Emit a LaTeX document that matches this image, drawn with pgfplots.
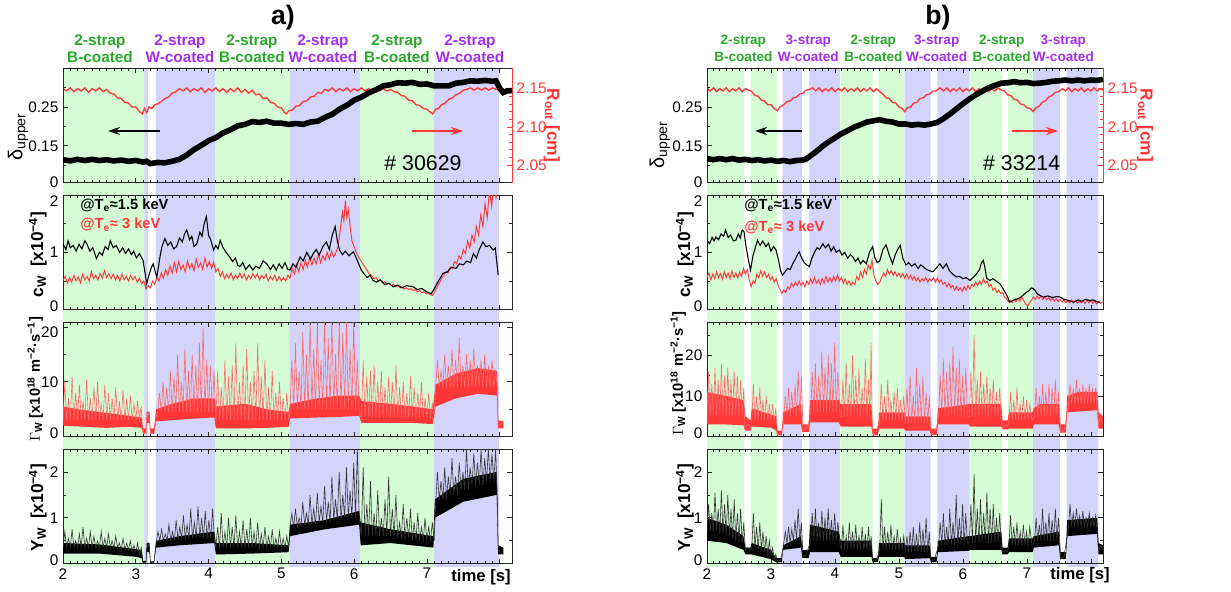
\documentclass[border=0pt]{standalone}
\usepackage{pgfplots}
\pgfplotsset{compat=1.18}
\usepackage{fontspec}
\setmainfont{Liberation Sans}
\usetikzlibrary{arrows.meta}
\definecolor{bgG}{RGB}{214,252,214}
\definecolor{bgP}{RGB}{212,212,250}
\definecolor{myred}{RGB}{255,55,55}
\definecolor{sgreen}{RGB}{40,170,40}
\definecolor{spurple}{RGB}{165,45,240}
\newcommand{\up}[1]{\raisebox{-0.1em}[0pt][0pt]{#1}}
\newcommand{\dn}[1]{\raisebox{-0.72em}[0pt][0pt]{#1}}
\pgfplotsset{
 base/.style={scale only axis, anchor=north west, height=86pt, ymin=0, clip=true,
   axis line style={line width=0.6pt, black!85}, tick style={black!85, line width=0.5pt},
   major tick length=3.5pt, minor tick length=2pt, tick align=inside,
   xtick={2,3,4,5,6,7,8}, minor x tick num=9, xticklabels={},
   /pgf/number format/assume math mode=true,
   tick label style={font=\fontsize{11.5}{13}\selectfont},
   ylabel style={font=\bfseries\fontsize{13}{15}\selectfont, anchor=center}},
 colA/.style={base, width=336.75pt, xmin=2, xmax=8.17},
 colB/.style={base, width=297pt, xmin=2, xmax=8.19},
 deltaax/.style={ymin=0.055, ymax=0.35, ytick={0.055,0.15,0.25}, yticklabels={0,0.15,0.25}, minor ytick={0.1,0.2,0.3}, axis y line*=left},
 rax/.style={ymin=2.027, ymax=2.177, axis y line*=right, axis x line=none, ytick={2.05,2.10,2.15}, yticklabels={2.05,2.10,2.15}, minor y tick num=4,
   y axis line style={myred}, tick style={myred}, yticklabel style={text=myred}, ylabel style={text=myred, rotate=180}},
 cwax/.style={ymax=2, ytick={0,1,2}, yticklabels={\up{0},1,\dn{2}}, minor y tick num=1},
 gax/.style={ytick={0,10,20}, minor y tick num=1},
 yax/.style={ymax=2.5, ytick={0,1,2}, yticklabels={\up{0},1,2}, minor y tick num=1},
}
\begin{document}
\begin{tikzpicture}
\useasboundingbox (0,0) rectangle (923.25pt,-444pt);
% ---------- backgrounds
\begin{axis}[colA, at={(47.25pt,-51pt)}, height=374.25pt, ymin=0, ymax=1, hide axis]
\addplot[const plot, fill=bgG, draw=none] coordinates {(2,1)(3.117,0)(4.088,1)(5.109,0)(6.08,1)(7.101,0)(8.17,0)} \closedcycle;
\addplot[const plot, fill=bgP, draw=none] coordinates {(2,0)(3.117,1)(3.17,0)(3.277,1)(4.088,0)(5.109,1)(6.08,0)(7.101,1)(7.989,0)(8.17,0)} \closedcycle;
\end{axis}
\begin{axis}[colB, at={(530.25pt,-51pt)}, height=374.25pt, ymin=0, ymax=1, hide axis]
\addplot[const plot, fill=bgG, draw=none] coordinates {(2,1)(2.585,0)(2.684,1)(3.092,0)(4.085,1)(4.591,0)(4.68,1)(5.088,0)(6.1,1)(6.613,0)(6.707,1)(7.099,0)(8.19,0)} \closedcycle;
\addplot[const plot, fill=bgP, draw=none] coordinates {(2,0)(3.181,1)(3.484,0)(3.6,1)(4.075,0)(5.088,1)(5.495,0)(5.6,1)(6.1,0)(7.099,1)(7.517,0)(7.622,1)(8.118,0)(8.19,0)} \closedcycle;
\end{axis}
% ---------- a) top
\begin{axis}[colA, rax, at={(47.25pt,-51pt)}, ylabel={R\textsubscript{out} [cm]}, ylabel style={at={(axis description cs:1.089,0.5)}}]
\addplot[myred, line width=1pt] coordinates {(2.0,2.150)(2.05,2.147)(2.1,2.151)(2.15,2.146)(2.2,2.150)(2.25,2.147)(2.3,2.151)(2.35,2.145)(2.4,2.150)(2.45,2.147)(2.5,2.151)(2.55,2.146)(2.6,2.149)(2.65,2.144)(2.7,2.143)(2.75,2.138)(2.8,2.137)(2.85,2.132)(2.9,2.131)(2.95,2.126)(3.0,2.126)(3.05,2.120)(3.09,2.117)(3.12,2.124)(3.15,2.119)(3.18,2.126)(3.22,2.124)(3.26,2.129)(3.3,2.130)(3.35,2.133)(3.4,2.137)(3.45,2.139)(3.5,2.144)(3.55,2.146)(3.6,2.150)(3.65,2.147)(3.7,2.151)(3.75,2.146)(3.8,2.150)(3.85,2.147)(3.9,2.151)(3.95,2.145)(4.0,2.150)(4.05,2.147)(4.1,2.151)(4.15,2.146)(4.2,2.150)(4.25,2.145)(4.3,2.150)(4.35,2.146)(4.4,2.151)(4.45,2.145)(4.5,2.149)(4.55,2.144)(4.6,2.148)(4.65,2.142)(4.7,2.143)(4.75,2.137)(4.8,2.138)(4.85,2.132)(4.9,2.131)(4.95,2.126)(5.0,2.125)(5.04,2.119)(5.07,2.117)(5.1,2.121)(5.15,2.122)(5.2,2.127)(5.25,2.128)(5.3,2.133)(5.35,2.134)(5.4,2.139)(5.45,2.140)(5.5,2.145)(5.55,2.144)(5.6,2.149)(5.65,2.147)(5.7,2.151)(5.75,2.146)(5.8,2.150)(5.85,2.147)(5.9,2.151)(5.95,2.146)(6.0,2.150)(6.05,2.147)(6.1,2.151)(6.15,2.147)(6.2,2.150)(6.25,2.147)(6.3,2.151)(6.35,2.147)(6.4,2.150)(6.45,2.147)(6.5,2.149)(6.55,2.146)(6.6,2.145)(6.65,2.141)(6.7,2.140)(6.75,2.135)(6.8,2.134)(6.85,2.129)(6.9,2.128)(6.95,2.124)(7.0,2.123)(7.05,2.119)(7.08,2.117)(7.12,2.123)(7.16,2.124)(7.2,2.129)(7.25,2.131)(7.3,2.136)(7.35,2.138)(7.4,2.142)(7.45,2.144)(7.5,2.148)(7.55,2.149)(7.6,2.151)(7.65,2.148)(7.7,2.151)(7.75,2.148)(7.8,2.151)(7.85,2.148)(7.9,2.151)(7.95,2.149)(7.98,2.150)};
\end{axis}
\begin{axis}[colA, deltaax, at={(47.25pt,-51pt)}, ylabel={δ\textsubscript{upper}}, ylabel style={at={(axis description cs:-0.1,0.4)}, font=\fontsize{15}{17}\selectfont}]
\addplot[black, line width=4.2pt] coordinates {(2.0,0.114)(2.1,0.111)(2.2,0.115)(2.3,0.112)(2.4,0.115)(2.5,0.112)(2.6,0.114)(2.7,0.111)(2.8,0.113)(2.9,0.110)(3.0,0.112)(3.1,0.108)(3.15,0.110)(3.2,0.104)(3.3,0.107)(3.4,0.106)(3.5,0.110)(3.6,0.115)(3.7,0.126)(3.8,0.140)(3.9,0.151)(4.0,0.163)(4.1,0.171)(4.2,0.183)(4.3,0.191)(4.4,0.201)(4.5,0.205)(4.6,0.212)(4.7,0.210)(4.8,0.213)(4.9,0.208)(5.0,0.208)(5.1,0.205)(5.2,0.207)(5.3,0.205)(5.4,0.211)(5.5,0.213)(5.6,0.223)(5.7,0.231)(5.8,0.244)(5.9,0.254)(6.0,0.267)(6.1,0.275)(6.2,0.286)(6.3,0.294)(6.4,0.304)(6.5,0.307)(6.6,0.312)(6.7,0.311)(6.8,0.313)(6.9,0.308)(7.0,0.309)(7.1,0.304)(7.2,0.304)(7.3,0.304)(7.4,0.311)(7.5,0.313)(7.6,0.317)(7.7,0.316)(7.8,0.318)(7.9,0.316)(7.95,0.317)(8.0,0.298)(8.05,0.287)(8.1,0.291)(8.17,0.292)};
\end{axis}
% ---------- a) cW
\begin{axis}[colA, cwax, at={(47.25pt,-146.25pt)}, ylabel={c\textsubscript{W}\enspace[x10\textsuperscript{−4}]}, ylabel style={at={(axis description cs:-0.056,0.48)}}]
\addplot[myred, line width=0.7pt] coordinates {(2.00,0.51)(2.03,0.58)(2.06,0.46)(2.09,0.56)(2.12,0.48)(2.15,0.60)(2.18,0.50)(2.21,0.57)(2.24,0.47)(2.27,0.62)(2.30,0.52)(2.33,0.58)(2.36,0.50)(2.39,0.66)(2.42,0.54)(2.45,0.60)(2.48,0.52)(2.51,0.63)(2.54,0.55)(2.57,0.68)(2.60,0.56)(2.63,0.63)(2.66,0.54)(2.69,0.62)(2.72,0.52)(2.75,0.60)(2.78,0.50)(2.81,0.62)(2.84,0.52)(2.87,0.58)(2.90,0.50)(2.93,0.60)(2.96,0.52)(2.99,0.58)(3.02,0.48)(3.05,0.55)(3.08,0.45)(3.11,0.50)(3.14,0.36)(3.17,0.42)(3.20,0.38)(3.23,0.50)(3.26,0.44)(3.29,0.56)(3.32,0.50)(3.35,0.64)(3.38,0.55)(3.41,0.70)(3.44,0.60)(3.47,0.76)(3.50,0.64)(3.53,0.82)(3.56,0.66)(3.59,0.84)(3.62,0.70)(3.65,0.78)(3.68,0.66)(3.71,0.85)(3.74,0.72)(3.77,0.80)(3.80,0.68)(3.83,0.88)(3.86,0.74)(3.89,0.82)(3.92,0.70)(3.95,0.90)(3.98,0.74)(4.01,0.84)(4.04,0.72)(4.07,0.83)(4.10,0.66)(4.13,0.72)(4.16,0.58)(4.19,0.66)(4.22,0.54)(4.25,0.62)(4.28,0.55)(4.31,0.64)(4.34,0.52)(4.37,0.60)(4.40,0.54)(4.43,0.64)(4.46,0.55)(4.49,0.62)(4.52,0.52)(4.55,0.60)(4.58,0.54)(4.61,0.63)(4.64,0.55)(4.67,0.62)(4.70,0.52)(4.73,0.60)(4.76,0.54)(4.79,0.62)(4.82,0.50)(4.85,0.58)(4.88,0.52)(4.91,0.60)(4.94,0.50)(4.97,0.58)(5.00,0.50)(5.03,0.56)(5.06,0.50)(5.09,0.60)(5.12,0.55)(5.15,0.72)(5.18,0.62)(5.21,0.78)(5.24,0.66)(5.27,0.82)(5.30,0.70)(5.33,0.86)(5.36,0.74)(5.39,0.92)(5.42,0.78)(5.45,0.90)(5.48,0.80)(5.51,0.96)(5.54,0.82)(5.57,0.94)(5.60,0.86)(5.63,1.00)(5.66,0.88)(5.69,1.02)(5.72,0.92)(5.75,1.00)(5.78,1.10)(5.81,1.40)(5.84,1.70)(5.86,1.55)(5.88,1.90)(5.90,1.60)(5.92,1.75)(5.95,1.40)(5.97,1.20)(6.00,1.10)(6.03,1.00)(6.06,0.92)(6.09,0.86)(6.12,0.80)(6.15,0.74)(6.18,0.68)(6.21,0.62)(6.24,0.60)(6.27,0.54)(6.30,0.56)(6.33,0.50)(6.36,0.52)(6.39,0.47)(6.42,0.49)(6.45,0.44)(6.48,0.46)(6.51,0.42)(6.54,0.44)(6.57,0.40)(6.60,0.42)(6.63,0.38)(6.66,0.40)(6.69,0.36)(6.72,0.38)(6.75,0.35)(6.78,0.37)(6.81,0.33)(6.84,0.35)(6.87,0.31)(6.90,0.33)(6.93,0.30)(6.96,0.31)(6.99,0.28)(7.02,0.29)(7.05,0.26)(7.08,0.25)(7.11,0.32)(7.14,0.40)(7.17,0.46)(7.20,0.54)(7.23,0.60)(7.26,0.66)(7.29,0.64)(7.32,0.74)(7.35,0.72)(7.38,0.84)(7.41,0.80)(7.44,0.94)(7.47,0.88)(7.50,1.05)(7.53,0.98)(7.56,1.20)(7.59,1.08)(7.62,1.30)(7.65,1.18)(7.68,1.45)(7.71,1.30)(7.74,1.65)(7.77,1.45)(7.80,1.85)(7.83,1.60)(7.86,2.10)(7.89,1.80)(7.92,2.20)(7.95,1.95)(7.98,2.10)};
\addplot[black, line width=0.8pt] coordinates {(2.00,1.15)(2.04,1.05)(2.07,1.20)(2.10,1.08)(2.14,1.12)(2.18,1.02)(2.22,1.14)(2.26,1.06)(2.30,1.20)(2.33,1.14)(2.37,1.02)(2.41,1.08)(2.46,0.89)(2.50,1.00)(2.54,0.95)(2.58,1.10)(2.62,1.05)(2.65,1.20)(2.69,1.08)(2.73,1.12)(2.78,1.00)(2.82,1.08)(2.86,0.98)(2.90,1.06)(2.94,0.96)(2.97,1.02)(3.01,0.90)(3.05,0.98)(3.10,0.86)(3.13,0.62)(3.15,0.45)(3.18,0.60)(3.21,0.72)(3.24,0.80)(3.27,0.65)(3.29,0.57)(3.33,0.90)(3.36,1.10)(3.40,1.24)(3.44,1.12)(3.48,1.18)(3.52,1.06)(3.56,1.10)(3.60,1.25)(3.64,1.18)(3.67,1.32)(3.70,1.39)(3.74,1.22)(3.77,1.28)(3.80,1.10)(3.84,1.15)(3.88,1.35)(3.91,1.28)(3.94,1.50)(3.97,1.62)(4.00,1.30)(4.03,1.22)(4.07,1.04)(4.10,1.12)(4.13,1.06)(4.16,1.21)(4.20,1.08)(4.24,1.00)(4.29,0.92)(4.33,0.84)(4.37,0.90)(4.40,0.78)(4.43,0.75)(4.47,0.82)(4.51,0.70)(4.56,0.78)(4.61,0.69)(4.65,0.76)(4.70,0.72)(4.75,0.85)(4.80,0.80)(4.85,0.70)(4.89,0.78)(4.93,0.69)(4.97,0.80)(5.01,0.72)(5.05,0.82)(5.09,0.70)(5.12,0.69)(5.16,0.80)(5.20,0.74)(5.26,0.92)(5.30,0.85)(5.35,1.00)(5.40,0.88)(5.44,0.98)(5.48,1.05)(5.52,0.95)(5.57,1.10)(5.62,1.18)(5.66,1.05)(5.70,1.30)(5.74,1.45)(5.77,1.20)(5.80,1.04)(5.84,0.96)(5.88,1.02)(5.93,0.94)(5.99,1.01)(6.03,0.90)(6.07,0.78)(6.10,0.69)(6.14,0.62)(6.18,0.56)(6.22,0.60)(6.26,0.51)(6.31,0.48)(6.36,0.52)(6.42,0.44)(6.48,0.46)(6.54,0.40)(6.60,0.43)(6.66,0.38)(6.72,0.42)(6.81,0.40)(6.87,0.35)(6.93,0.37)(7.00,0.31)(7.06,0.28)(7.10,0.36)(7.15,0.48)(7.22,0.63)(7.28,0.66)(7.34,0.74)(7.40,0.72)(7.45,0.80)(7.50,0.78)(7.55,0.85)(7.60,0.82)(7.64,0.98)(7.68,0.90)(7.72,1.05)(7.77,1.18)(7.81,1.10)(7.86,1.12)(7.91,1.04)(7.94,1.08)(7.98,0.60)};
\end{axis}
% ---------- a) Gamma
\begin{axis}[colA, gax, yticklabels={\up{0},10,\dn{20}}, ymax=20.9, at={(47.25pt,-241.5pt)}, ylabel={$\Gamma$\textsubscript{W} [x10\textsuperscript{18} m\textsuperscript{−2}·s\textsuperscript{−1}]}, ylabel style={at={(axis description cs:-0.062,0.5)}, font=\bfseries\fontsize{11}{13}\selectfont}]
\addplot[fill=myred, draw=none] coordinates {(2.0,2.0)(2.3,1.8)(2.6,1.6)(2.9,1.8)(3.08,1.6)(3.1,0.6)(3.14,0.5)(3.15,2.5)(3.19,2.5)(3.2,0.5)(3.25,0.5)(3.28,2.8)(3.5,3.0)(3.8,3.3)(4.08,3.5)(4.1,1.5)(4.5,1.5)(4.8,1.6)(5.1,1.8)(5.12,3.3)(5.5,3.5)(5.8,3.6)(6.07,3.8)(6.1,2.5)(6.5,2.5)(6.8,2.5)(7.08,2.3)(7.12,5.5)(7.4,7.0)(7.7,7.8)(7.96,7.5)(7.98,1.5)(8.05,1.5)(8.05,2.8)(7.98,3)(7.96,12)(7.7,12.5)(7.4,11.5)(7.12,9.5)(7.08,5)(6.8,5.5)(6.5,6)(6.1,6.5)(6.07,7.5)(5.8,7.5)(5.5,7)(5.12,6)(5.1,4.5)(4.8,5)(4.5,6)(4.1,5.5)(4.08,7)(3.8,7)(3.5,6)(3.28,5)(3.25,1.5)(3.2,1.5)(3.19,4.5)(3.15,4.5)(3.14,1.5)(3.1,1.5)(3.08,3.5)(2.8,4)(2.5,4.5)(2.2,5)(2.0,5.5)} -- cycle;
\addplot[myred!75, line width=0.45pt] coordinates {(2.00,3)(2.025,10)(2.05,3)(2.075,7)(2.10,3)(2.125,11)(2.15,3)(2.175,8)(2.20,3)(2.225,9.5)(2.25,3)(2.275,6.5)(2.30,3)(2.325,10.5)(2.35,3)(2.375,7)(2.40,3)(2.425,9)(2.45,3)(2.475,10)(2.50,3)(2.525,6)(2.55,3)(2.575,9.5)(2.60,3)(2.625,8)(2.65,3)(2.675,7)(2.70,3)(2.725,9)(2.75,3)(2.775,6.5)(2.80,3)(2.825,8.5)(2.85,3)(2.875,7)(2.90,3)(2.925,7.5)(2.95,3)(2.975,6)(3.00,3)(3.025,6.5)(3.05,3)(3.075,5.5)(3.09,2)(3.11,0.6)(3.14,0.5)(3.15,3)(3.17,4.5)(3.19,3)(3.20,0.6)(3.25,0.5)(3.28,3.5)(3.30,4.5)(3.325,8)(3.35,4.5)(3.375,10)(3.40,4.5)(3.425,9)(3.45,4.5)(3.475,12)(3.50,4.5)(3.525,11)(3.55,4.5)(3.575,15)(3.60,4.5)(3.625,10)(3.65,4.5)(3.675,16)(3.70,4.5)(3.725,12)(3.75,4.5)(3.775,15)(3.80,4.5)(3.825,13)(3.85,4.5)(3.875,17)(3.90,4.5)(3.925,20)(3.95,4.5)(3.975,14)(4.00,4.5)(4.025,13)(4.05,4.5)(4.075,12)(4.10,3)(4.125,12)(4.15,3)(4.175,9)(4.20,3)(4.225,14)(4.25,3)(4.275,11)(4.30,3)(4.325,13)(4.35,3)(4.375,17)(4.40,3)(4.425,10)(4.45,3)(4.475,13)(4.50,3)(4.525,16)(4.55,3)(4.575,10)(4.60,3)(4.625,12)(4.65,3)(4.675,17)(4.70,3)(4.725,11)(4.75,3)(4.775,14)(4.80,3)(4.825,9)(4.85,3)(4.875,12)(4.90,3)(4.925,8)(4.95,3)(4.975,10)(5.00,3)(5.025,7)(5.05,3)(5.075,8)(5.10,3)(5.12,5)(5.145,14)(5.17,5)(5.195,17)(5.22,5)(5.245,12)(5.27,5)(5.295,19)(5.32,5)(5.345,15)(5.37,5)(5.395,21)(5.42,5)(5.445,16)(5.47,5)(5.495,21)(5.52,5)(5.545,14)(5.57,5)(5.595,21)(5.62,5)(5.645,18)(5.67,5)(5.695,21)(5.72,5)(5.745,15)(5.77,5)(5.795,21)(5.82,5)(5.845,19)(5.87,5)(5.895,21)(5.92,5)(5.945,16)(5.97,5)(5.995,21)(6.02,5)(6.045,14)(6.07,4)(6.10,3.5)(6.125,14)(6.15,3.5)(6.175,11)(6.20,3.5)(6.225,12)(6.25,3.5)(6.275,13)(6.30,3.5)(6.325,10)(6.35,3.5)(6.375,12)(6.40,3.5)(6.425,9)(6.45,3.5)(6.475,11)(6.50,3.5)(6.525,10)(6.55,3.5)(6.575,13)(6.60,3.5)(6.625,9)(6.65,3.5)(6.675,10)(6.70,3.5)(6.725,8)(6.75,3.5)(6.775,11)(6.80,3.5)(6.825,9)(6.85,3.5)(6.875,8)(6.90,3.5)(6.925,10)(6.95,3.5)(6.975,7)(7.00,3.5)(7.025,8)(7.05,3.5)(7.075,6)(7.10,4)(7.12,9)(7.145,14)(7.17,9)(7.195,12)(7.22,9)(7.245,15)(7.27,9)(7.295,13)(7.32,9)(7.345,16)(7.37,9)(7.395,14)(7.42,9)(7.445,18)(7.47,9)(7.495,13)(7.52,9)(7.545,15)(7.57,9)(7.595,14)(7.62,9)(7.645,16)(7.67,9)(7.695,13)(7.72,9)(7.745,14)(7.77,9)(7.795,15)(7.82,9)(7.845,13)(7.87,9)(7.895,14)(7.92,9)(7.945,12)(7.97,9)(7.98,2)(8.05,2.5)};
\end{axis}
% ---------- a) Y
\begin{axis}[colA, yax, at={(47.25pt,-336.75pt)}, xticklabels={2,3,4,5,6,7}, ylabel={Y\textsubscript{W}\enspace[x10\textsuperscript{−4}]}, ylabel style={at={(axis description cs:-0.056,0.49)}}]
\addplot[fill=black, draw=none] coordinates {(2.0,0.22)(2.5,0.22)(3.0,0.15)(3.08,0.12)(3.1,0.02)(3.14,0.02)(3.15,0.25)(3.19,0.25)(3.2,0.02)(3.25,0.02)(3.28,0.35)(3.6,0.4)(4.08,0.45)(4.1,0.2)(4.6,0.22)(5.1,0.25)(5.12,0.6)(5.6,0.75)(6.07,0.85)(6.09,0.4)(6.5,0.45)(7.09,0.35)(7.11,1.0)(7.5,1.35)(7.96,1.5)(7.98,0.2)(8.05,0.2)(8.05,0.35)(7.98,0.4)(7.96,2.0)(7.5,1.85)(7.11,1.4)(7.09,0.6)(6.5,0.75)(6.09,0.9)(6.07,1.15)(5.6,0.95)(5.12,0.85)(5.1,0.4)(4.6,0.45)(4.1,0.45)(4.08,0.7)(3.6,0.6)(3.28,0.5)(3.25,0.05)(3.2,0.05)(3.19,0.45)(3.15,0.45)(3.14,0.06)(3.1,0.06)(3.08,0.3)(2.5,0.42)(2.0,0.45)} -- cycle;
\addplot[black!80, line width=0.45pt] coordinates {(2.00,0.35)(2.025,0.7)(2.05,0.35)(2.075,0.55)(2.10,0.35)(2.125,0.75)(2.15,0.35)(2.175,0.5)(2.20,0.35)(2.225,0.65)(2.25,0.35)(2.275,0.8)(2.30,0.35)(2.325,0.55)(2.35,0.35)(2.375,0.7)(2.40,0.35)(2.425,0.6)(2.45,0.35)(2.475,0.5)(2.50,0.35)(2.525,0.7)(2.55,0.35)(2.575,0.55)(2.60,0.35)(2.625,0.65)(2.65,0.35)(2.675,0.5)(2.70,0.35)(2.725,0.6)(2.75,0.35)(2.775,0.45)(2.80,0.3)(2.825,0.55)(2.85,0.3)(2.875,0.45)(2.90,0.3)(2.925,0.5)(2.95,0.25)(2.975,0.4)(3.00,0.25)(3.025,0.45)(3.05,0.2)(3.075,0.35)(3.10,0.02)(3.14,0.03)(3.15,0.3)(3.17,0.45)(3.19,0.3)(3.20,0.02)(3.25,0.03)(3.28,0.45)(3.305,0.7)(3.33,0.5)(3.355,0.75)(3.38,0.5)(3.405,0.65)(3.43,0.5)(3.455,0.85)(3.48,0.5)(3.505,0.7)(3.53,0.5)(3.555,0.95)(3.58,0.5)(3.605,0.8)(3.63,0.55)(3.655,1.05)(3.68,0.55)(3.705,0.85)(3.73,0.55)(3.755,1.2)(3.78,0.55)(3.805,0.9)(3.83,0.55)(3.855,1.25)(3.88,0.55)(3.905,1.0)(3.93,0.55)(3.955,1.15)(3.98,0.55)(4.005,0.95)(4.03,0.55)(4.055,1.2)(4.08,0.55)(4.10,0.35)(4.125,0.8)(4.15,0.35)(4.175,1.1)(4.20,0.35)(4.225,0.7)(4.25,0.35)(4.275,1.0)(4.30,0.35)(4.325,0.8)(4.35,0.35)(4.375,1.05)(4.40,0.35)(4.425,0.7)(4.45,0.35)(4.475,0.95)(4.50,0.35)(4.525,0.75)(4.55,0.35)(4.575,1.0)(4.60,0.35)(4.625,0.7)(4.65,0.35)(4.675,0.9)(4.70,0.35)(4.725,0.65)(4.75,0.35)(4.775,0.8)(4.80,0.35)(4.825,0.6)(4.85,0.35)(4.875,0.75)(4.90,0.35)(4.925,0.55)(4.95,0.35)(4.975,0.7)(5.00,0.35)(5.025,0.55)(5.05,0.35)(5.075,0.6)(5.10,0.35)(5.12,0.8)(5.145,1.1)(5.17,0.8)(5.195,1.2)(5.22,0.8)(5.245,1.0)(5.27,0.8)(5.295,1.35)(5.32,0.85)(5.345,1.1)(5.37,0.85)(5.395,1.5)(5.42,0.85)(5.445,1.2)(5.47,0.85)(5.495,1.55)(5.52,0.9)(5.545,1.25)(5.57,0.9)(5.595,1.7)(5.62,0.9)(5.645,1.35)(5.67,0.9)(5.695,1.9)(5.72,0.95)(5.745,1.4)(5.77,0.95)(5.795,2.0)(5.82,0.95)(5.845,1.5)(5.87,1.0)(5.895,2.1)(5.92,1.0)(5.945,1.6)(5.97,1.0)(5.995,2.2)(6.02,1.0)(6.045,2.5)(6.07,1.0)(6.10,0.6)(6.125,2.1)(6.15,0.6)(6.175,1.3)(6.20,0.6)(6.225,1.8)(6.25,0.6)(6.275,1.1)(6.30,0.6)(6.325,1.6)(6.35,0.6)(6.375,1.0)(6.40,0.6)(6.425,1.4)(6.45,0.6)(6.475,1.9)(6.50,0.6)(6.525,1.2)(6.55,0.6)(6.575,1.5)(6.60,0.55)(6.625,0.9)(6.65,0.55)(6.675,1.3)(6.70,0.55)(6.725,1.0)(6.75,0.55)(6.775,1.2)(6.80,0.5)(6.825,0.9)(6.85,0.5)(6.875,1.1)(6.90,0.5)(6.925,0.8)(6.95,0.5)(6.975,1.0)(7.00,0.5)(7.025,0.8)(7.05,0.5)(7.075,0.9)(7.10,0.5)(7.12,1.3)(7.145,2.0)(7.17,1.4)(7.195,1.8)(7.22,1.4)(7.245,2.1)(7.27,1.4)(7.295,1.9)(7.32,1.5)(7.345,2.3)(7.37,1.5)(7.395,1.9)(7.42,1.5)(7.445,2.2)(7.47,1.6)(7.495,2.0)(7.52,1.6)(7.545,2.5)(7.57,1.6)(7.595,2.1)(7.62,1.7)(7.645,2.4)(7.67,1.7)(7.695,2.2)(7.72,1.7)(7.745,2.5)(7.77,1.7)(7.795,2.3)(7.82,1.8)(7.845,2.5)(7.87,1.8)(7.895,2.4)(7.92,1.8)(7.945,2.5)(7.97,1.3)(7.98,0.3)(8.05,0.2)};
\end{axis}
% ---------- b) top
\begin{axis}[colB, rax, at={(530.25pt,-51pt)}, ylabel={R\textsubscript{out} [cm]}, ylabel style={at={(axis description cs:1.106,0.5)}}]
\addplot[myred, line width=1pt] coordinates {(2.0,2.150)(2.05,2.147)(2.1,2.151)(2.15,2.146)(2.2,2.150)(2.25,2.147)(2.3,2.151)(2.35,2.146)(2.4,2.150)(2.45,2.147)(2.5,2.151)(2.55,2.146)(2.6,2.150)(2.65,2.148)(2.7,2.146)(2.75,2.141)(2.8,2.140)(2.85,2.135)(2.9,2.134)(2.95,2.129)(3.0,2.129)(3.05,2.124)(3.1,2.121)(3.14,2.126)(3.2,2.129)(3.25,2.133)(3.3,2.134)(3.35,2.138)(3.4,2.139)(3.45,2.143)(3.5,2.144)(3.55,2.148)(3.6,2.149)(3.65,2.151)(3.7,2.147)(3.75,2.151)(3.8,2.146)(3.85,2.150)(3.9,2.147)(3.95,2.151)(4.0,2.146)(4.05,2.150)(4.1,2.147)(4.15,2.151)(4.2,2.146)(4.25,2.150)(4.3,2.147)(4.35,2.151)(4.4,2.146)(4.45,2.150)(4.5,2.147)(4.55,2.151)(4.6,2.146)(4.65,2.150)(4.7,2.146)(4.75,2.143)(4.8,2.138)(4.85,2.137)(4.9,2.132)(4.95,2.131)(5.0,2.126)(5.05,2.124)(5.09,2.120)(5.13,2.125)(5.18,2.126)(5.23,2.131)(5.28,2.132)(5.33,2.137)(5.38,2.138)(5.43,2.142)(5.48,2.143)(5.53,2.147)(5.58,2.147)(5.64,2.151)(5.7,2.147)(5.75,2.151)(5.8,2.146)(5.85,2.150)(5.9,2.147)(5.95,2.151)(6.0,2.146)(6.05,2.150)(6.1,2.147)(6.15,2.151)(6.2,2.146)(6.25,2.150)(6.3,2.147)(6.35,2.151)(6.4,2.146)(6.45,2.150)(6.5,2.147)(6.55,2.151)(6.6,2.148)(6.65,2.147)(6.7,2.142)(6.75,2.141)(6.8,2.136)(6.85,2.135)(6.9,2.130)(6.95,2.129)(7.0,2.125)(7.05,2.124)(7.1,2.120)(7.14,2.125)(7.19,2.127)(7.24,2.132)(7.29,2.134)(7.34,2.139)(7.39,2.141)(7.44,2.145)(7.49,2.146)(7.56,2.150)(7.6,2.147)(7.65,2.151)(7.7,2.146)(7.75,2.150)(7.8,2.147)(7.85,2.151)(7.9,2.146)(7.95,2.150)(8.0,2.147)(8.05,2.151)(8.1,2.147)(8.15,2.150)(8.19,2.148)};
\end{axis}
\begin{axis}[colB, deltaax, at={(530.25pt,-51pt)}, ylabel={δ\textsubscript{upper}}, ylabel style={at={(axis description cs:-0.119,0.33)}, font=\fontsize{15}{17}\selectfont}]
\addplot[black, line width=4.2pt] coordinates {(2.0,0.117)(2.1,0.114)(2.2,0.117)(2.3,0.114)(2.4,0.117)(2.5,0.113)(2.6,0.115)(2.7,0.112)(2.8,0.114)(2.9,0.111)(3.0,0.113)(3.1,0.110)(3.2,0.112)(3.3,0.109)(3.4,0.112)(3.5,0.113)(3.55,0.116)(3.6,0.122)(3.7,0.134)(3.8,0.148)(3.9,0.160)(4.0,0.170)(4.1,0.181)(4.2,0.189)(4.3,0.198)(4.4,0.204)(4.5,0.211)(4.6,0.214)(4.7,0.217)(4.8,0.213)(4.9,0.211)(5.0,0.206)(5.1,0.206)(5.2,0.203)(5.3,0.205)(5.4,0.203)(5.5,0.206)(5.6,0.210)(5.7,0.220)(5.8,0.232)(5.9,0.245)(6.0,0.258)(6.1,0.270)(6.2,0.281)(6.3,0.290)(6.4,0.299)(6.5,0.305)(6.6,0.311)(6.7,0.312)(6.8,0.315)(6.9,0.312)(7.0,0.313)(7.1,0.310)(7.2,0.311)(7.3,0.313)(7.4,0.316)(7.5,0.317)(7.6,0.319)(7.7,0.317)(7.8,0.319)(7.9,0.317)(8.0,0.319)(8.1,0.318)(8.19,0.321)};
\end{axis}
% ---------- b) cW
\begin{axis}[colB, cwax, at={(530.25pt,-146.25pt)}, ylabel={c\textsubscript{W}\enspace[x10\textsuperscript{−4}]}, ylabel style={at={(axis description cs:-0.056,0.48)}}]
\addplot[myred, line width=0.7pt] coordinates {(2.00,0.57)(2.03,0.64)(2.06,0.52)(2.09,0.62)(2.12,0.54)(2.15,0.66)(2.18,0.56)(2.21,0.63)(2.24,0.53)(2.27,0.66)(2.30,0.56)(2.33,0.64)(2.36,0.54)(2.39,0.68)(2.42,0.56)(2.45,0.64)(2.48,0.55)(2.51,0.66)(2.54,0.58)(2.57,0.72)(2.60,0.62)(2.63,0.70)(2.66,0.52)(2.69,0.40)(2.72,0.50)(2.75,0.46)(2.78,0.62)(2.81,0.56)(2.84,0.68)(2.87,0.58)(2.90,0.66)(2.93,0.56)(2.96,0.62)(2.99,0.52)(3.02,0.58)(3.05,0.48)(3.08,0.54)(3.11,0.42)(3.14,0.36)(3.17,0.28)(3.20,0.34)(3.23,0.30)(3.26,0.40)(3.29,0.36)(3.32,0.46)(3.35,0.40)(3.38,0.48)(3.41,0.42)(3.44,0.50)(3.47,0.42)(3.50,0.48)(3.53,0.40)(3.56,0.50)(3.59,0.44)(3.62,0.54)(3.65,0.46)(3.68,0.56)(3.71,0.46)(3.74,0.52)(3.77,0.44)(3.80,0.54)(3.83,0.46)(3.86,0.58)(3.89,0.48)(3.92,0.56)(3.95,0.48)(3.98,0.58)(4.01,0.50)(4.04,0.60)(4.07,0.50)(4.10,0.56)(4.13,0.46)(4.16,0.54)(4.19,0.44)(4.22,0.50)(4.25,0.42)(4.28,0.48)(4.31,0.44)(4.34,0.58)(4.37,0.52)(4.40,0.66)(4.43,0.56)(4.46,0.70)(4.49,0.62)(4.52,0.78)(4.55,0.70)(4.58,0.86)(4.61,0.60)(4.64,0.50)(4.67,0.44)(4.70,0.48)(4.73,0.56)(4.76,0.64)(4.79,0.58)(4.82,0.70)(4.85,0.62)(4.88,0.68)(4.91,0.60)(4.94,0.66)(4.97,0.58)(5.00,0.64)(5.03,0.56)(5.06,0.63)(5.09,0.55)(5.12,0.62)(5.15,0.54)(5.18,0.60)(5.21,0.52)(5.24,0.58)(5.27,0.50)(5.30,0.56)(5.33,0.48)(5.36,0.54)(5.39,0.50)(5.42,0.56)(5.45,0.48)(5.48,0.54)(5.51,0.50)(5.54,0.56)(5.57,0.48)(5.60,0.55)(5.63,0.47)(5.66,0.52)(5.69,0.44)(5.72,0.48)(5.75,0.40)(5.78,0.46)(5.81,0.38)(5.84,0.42)(5.87,0.34)(5.90,0.40)(5.93,0.34)(5.96,0.38)(5.99,0.32)(6.02,0.40)(6.05,0.34)(6.08,0.42)(6.11,0.36)(6.14,0.44)(6.17,0.40)(6.20,0.48)(6.23,0.42)(6.26,0.50)(6.29,0.44)(6.32,0.54)(6.35,0.46)(6.38,0.50)(6.41,0.40)(6.44,0.44)(6.47,0.34)(6.50,0.38)(6.53,0.30)(6.56,0.34)(6.59,0.28)(6.62,0.30)(6.65,0.22)(6.68,0.20)(6.71,0.14)(6.74,0.16)(6.77,0.12)(6.80,0.18)(6.83,0.14)(6.86,0.20)(6.89,0.15)(6.92,0.22)(6.95,0.16)(6.98,0.10)(7.01,0.06)(7.04,0.12)(7.07,0.16)(7.10,0.22)(7.13,0.18)(7.16,0.24)(7.19,0.19)(7.22,0.24)(7.25,0.18)(7.28,0.22)(7.31,0.17)(7.34,0.21)(7.37,0.16)(7.40,0.20)(7.43,0.15)(7.46,0.19)(7.49,0.14)(7.52,0.18)(7.55,0.13)(7.58,0.17)(7.61,0.12)(7.64,0.16)(7.67,0.12)(7.70,0.17)(7.73,0.12)(7.76,0.16)(7.79,0.11)(7.82,0.16)(7.85,0.12)(7.88,0.15)(7.91,0.11)(7.94,0.16)(7.97,0.12)(8.00,0.16)(8.03,0.11)(8.06,0.15)(8.09,0.10)(8.12,0.14)(8.15,0.11)(8.18,0.13)};
\addplot[black, line width=0.8pt] coordinates {(2.00,1.21)(2.04,1.15)(2.08,1.26)(2.11,1.20)(2.14,1.27)(2.18,1.22)(2.22,1.32)(2.26,1.28)(2.29,1.39)(2.33,1.26)(2.37,1.30)(2.41,1.20)(2.45,1.21)(2.49,1.32)(2.52,1.25)(2.55,1.39)(2.58,1.36)(2.61,1.10)(2.65,0.85)(2.68,0.69)(2.72,0.95)(2.76,1.10)(2.79,1.21)(2.83,1.12)(2.87,1.20)(2.92,1.10)(2.96,1.16)(3.00,1.02)(3.04,1.10)(3.08,1.04)(3.12,0.85)(3.15,0.68)(3.18,0.60)(3.22,0.66)(3.26,0.72)(3.30,0.70)(3.34,0.80)(3.38,0.88)(3.41,0.95)(3.44,1.01)(3.48,0.90)(3.52,0.82)(3.56,0.78)(3.60,0.75)(3.64,0.90)(3.68,1.00)(3.72,1.08)(3.76,1.05)(3.81,1.15)(3.85,1.08)(3.90,1.14)(3.94,1.02)(3.98,1.10)(4.02,1.00)(4.07,1.04)(4.11,0.95)(4.15,1.00)(4.20,0.90)(4.24,0.96)(4.28,0.92)(4.32,0.84)(4.36,0.90)(4.40,0.80)(4.44,0.86)(4.49,0.80)(4.54,1.00)(4.59,1.10)(4.62,0.92)(4.66,0.82)(4.70,0.85)(4.75,1.05)(4.80,1.13)(4.85,0.95)(4.90,0.80)(4.94,0.95)(4.98,1.05)(5.02,1.12)(5.06,0.90)(5.11,0.78)(5.15,0.82)(5.20,0.76)(5.25,0.80)(5.30,0.72)(5.34,0.78)(5.38,0.75)(5.43,0.70)(5.48,0.68)(5.53,0.66)(5.58,0.72)(5.64,0.80)(5.69,0.72)(5.74,0.80)(5.79,0.68)(5.84,0.62)(5.90,0.57)(5.95,0.58)(6.00,0.54)(6.05,0.56)(6.11,0.51)(6.16,0.56)(6.21,0.62)(6.26,0.70)(6.29,0.82)(6.32,0.86)(6.35,0.70)(6.37,0.55)(6.42,0.51)(6.47,0.54)(6.52,0.50)(6.58,0.45)(6.62,0.38)(6.66,0.30)(6.70,0.22)(6.73,0.13)(6.78,0.16)(6.83,0.18)(6.88,0.20)(6.94,0.25)(6.99,0.30)(7.04,0.34)(7.07,0.38)(7.10,0.37)(7.13,0.33)(7.16,0.28)(7.20,0.25)(7.26,0.22)(7.33,0.24)(7.40,0.21)(7.47,0.23)(7.52,0.22)(7.58,0.18)(7.65,0.16)(7.73,0.13)(7.80,0.17)(7.86,0.15)(7.92,0.18)(7.98,0.16)(8.04,0.17)(8.09,0.14)(8.14,0.13)};
\end{axis}
% ---------- b) Gamma
\begin{axis}[colB, gax, yticklabels={\up{0},10,20}, ymax=28.2, minor ytick={5,15,25}, minor y tick num=0, at={(530.25pt,-241.5pt)}, ylabel={$\Gamma$\textsubscript{W} [x10\textsuperscript{18} m\textsuperscript{−2}·s\textsuperscript{−1}]}, ylabel style={at={(axis description cs:-0.073,0.55)}, font=\bfseries\fontsize{11}{13}\selectfont}]
\addplot[fill=myred, draw=none] coordinates {(2.0,3)(2.3,3)(2.57,2.8)(2.6,1.5)(2.68,1.5)(2.7,2.5)(3.0,2.2)(3.08,1.5)(3.1,0.3)(3.17,0.3)(3.19,3)(3.47,3)(3.49,1.2)(3.59,1.2)(3.61,3.5)(4.06,3.5)(4.09,2.5)(4.57,2.5)(4.59,0.3)(4.67,0.3)(4.69,2)(5.08,2)(5.1,1.5)(5.48,1.5)(5.5,0.4)(5.59,0.4)(5.61,3)(6.09,3)(6.11,2.5)(6.6,2.5)(6.62,1.8)(6.7,1.8)(6.72,2)(7.09,2)(7.11,3)(7.5,3)(7.52,1)(7.61,1)(7.63,6)(8.1,6.5)(8.12,2)(8.19,2)(8.19,5)(8.12,6)(8.1,11)(7.8,11)(7.63,10)(7.61,3)(7.52,3)(7.5,8)(7.2,8)(7.11,7)(7.09,6)(6.72,6)(6.7,4)(6.62,4)(6.6,8)(6.11,8)(6.09,8)(5.61,7)(5.59,2)(5.5,2)(5.48,5)(5.1,5)(5.08,6)(4.69,6)(4.67,2)(4.59,2)(4.57,8)(4.09,8)(4.06,9)(3.61,9)(3.59,3)(3.49,3)(3.47,8)(3.19,6)(3.17,1.5)(3.1,1.5)(3.08,5)(2.7,7)(2.68,4)(2.6,5)(2.57,9)(2.3,10)(2.0,11)} -- cycle;
\addplot[myred!75, line width=0.45pt] coordinates {(2.00,5)(2.025,16)(2.05,5)(2.075,13)(2.10,5)(2.125,17)(2.15,5)(2.175,14)(2.20,5)(2.225,18)(2.25,5)(2.275,15)(2.30,5)(2.325,17)(2.35,5)(2.375,14)(2.40,5)(2.425,16)(2.45,5)(2.475,15)(2.50,5)(2.525,14)(2.55,5)(2.575,12)(2.59,2)(2.64,3)(2.68,2)(2.70,4)(2.725,13)(2.75,4)(2.775,10)(2.80,4)(2.825,12)(2.85,4)(2.875,9)(2.90,4)(2.925,10)(2.95,4)(2.975,8)(3.00,4)(3.025,8)(3.05,4)(3.075,7)(3.10,0.5)(3.15,1)(3.19,3)(3.20,5)(3.225,10)(3.25,5)(3.275,12)(3.30,5)(3.325,11)(3.35,5)(3.375,13)(3.40,5)(3.425,16)(3.45,5)(3.475,15)(3.50,1.5)(3.55,2)(3.60,4)(3.62,6)(3.645,16)(3.67,6)(3.695,18)(3.72,6)(3.745,15)(3.77,6)(3.795,21)(3.82,6)(3.845,17)(3.87,6)(3.895,20)(3.92,6)(3.945,18)(3.97,6)(3.995,23)(4.02,6)(4.045,16)(4.08,5)(4.10,5)(4.125,14)(4.15,5)(4.175,18)(4.20,5)(4.225,13)(4.25,5)(4.275,20)(4.30,5)(4.325,15)(4.35,5)(4.375,17)(4.40,5)(4.425,12)(4.45,5)(4.475,19)(4.50,5)(4.525,14)(4.545,5)(4.565,23)(4.58,4)(4.60,0.5)(4.64,1)(4.68,3)(4.70,4)(4.725,13)(4.75,4)(4.775,10)(4.80,4)(4.825,14)(4.85,4)(4.875,9)(4.90,4)(4.925,11)(4.95,4)(4.975,12)(5.00,4)(5.025,9)(5.05,4)(5.075,10)(5.10,3.5)(5.125,12)(5.15,3.5)(5.175,15)(5.20,3.5)(5.225,10)(5.25,3.5)(5.275,17)(5.30,3.5)(5.325,13)(5.35,3.5)(5.375,15)(5.40,3.5)(5.425,11)(5.45,3.5)(5.475,10)(5.50,0.5)(5.55,1)(5.60,3)(5.62,5)(5.645,15)(5.67,5)(5.695,19)(5.72,5)(5.745,16)(5.77,5)(5.795,18)(5.82,5)(5.845,22)(5.87,5)(5.895,17)(5.92,5)(5.945,19)(5.97,5)(5.995,15)(6.02,5)(6.045,17)(6.07,5)(6.10,5)(6.125,16)(6.15,5)(6.175,25)(6.20,5)(6.225,14)(6.25,5)(6.275,16)(6.30,5)(6.325,13)(6.35,5)(6.375,15)(6.40,5)(6.425,12)(6.45,5)(6.475,14)(6.50,5)(6.525,11)(6.55,5)(6.575,12)(6.60,4)(6.62,2)(6.66,3)(6.70,2.5)(6.72,4)(6.745,11)(6.77,4)(6.795,9)(6.82,4)(6.845,12)(6.87,4)(6.895,8)(6.92,4)(6.945,10)(6.97,4)(6.995,9)(7.02,4)(7.045,8)(7.08,4)(7.12,5)(7.145,12)(7.17,5)(7.195,10)(7.22,5)(7.245,13)(7.27,5)(7.295,11)(7.32,5)(7.345,13)(7.37,5)(7.395,12)(7.42,5)(7.445,14)(7.47,5)(7.495,11)(7.53,1)(7.58,1.5)(7.62,5)(7.65,8)(7.675,13)(7.70,8)(7.725,12)(7.75,8)(7.775,14)(7.80,8)(7.825,12)(7.85,8)(7.875,13)(7.90,8)(7.925,12)(7.95,8)(7.975,13)(8.00,8)(8.025,12)(8.05,8)(8.075,12)(8.10,7)(8.12,3)(8.15,5)(8.19,3)};
\end{axis}
% ---------- b) Y
\begin{axis}[colB, yax, at={(530.25pt,-336.75pt)}, xticklabels={2,3,4,5,6,7}, ylabel={Y\textsubscript{W}\enspace[x10\textsuperscript{−4}]}, ylabel style={at={(axis description cs:-0.056,0.49)}}]
\addplot[fill=black, draw=none] coordinates {(2.0,0.5)(2.3,0.45)(2.57,0.3)(2.6,0.2)(2.68,0.2)(2.7,0.2)(3.0,0.1)(3.08,0.03)(3.17,0.03)(3.19,0.3)(3.47,0.35)(3.49,0.12)(3.59,0.12)(3.61,0.25)(4.06,0.25)(4.09,0.15)(4.57,0.15)(4.59,0.04)(4.67,0.04)(4.69,0.15)(5.08,0.15)(5.1,0.1)(5.48,0.12)(5.5,0.04)(5.59,0.04)(5.61,0.25)(6.09,0.28)(6.11,0.3)(6.6,0.3)(6.62,0.2)(6.7,0.2)(6.72,0.25)(7.09,0.25)(7.11,0.35)(7.5,0.4)(7.52,0.1)(7.61,0.1)(7.63,0.6)(8.1,0.65)(8.12,0.2)(8.19,0.2)(8.19,0.4)(8.12,0.45)(8.1,1.0)(7.63,0.95)(7.61,0.25)(7.52,0.25)(7.5,0.7)(7.11,0.6)(7.09,0.55)(6.72,0.55)(6.7,0.35)(6.62,0.35)(6.6,0.7)(6.11,0.6)(6.09,0.6)(5.61,0.5)(5.59,0.15)(5.5,0.15)(5.48,0.4)(5.1,0.4)(5.08,0.45)(4.69,0.45)(4.67,0.12)(4.59,0.12)(4.57,0.5)(4.09,0.5)(4.06,0.7)(3.61,0.85)(3.59,0.3)(3.49,0.3)(3.47,0.6)(3.19,0.4)(3.17,0.12)(3.08,0.12)(3.0,0.3)(2.7,0.45)(2.68,0.35)(2.6,0.35)(2.57,0.6)(2.3,0.85)(2.0,1.0)} -- cycle;
\addplot[black!80, line width=0.45pt] coordinates {(2.00,0.7)(2.025,1.3)(2.05,0.7)(2.075,1.1)(2.10,0.7)(2.125,1.55)(2.15,0.7)(2.175,1.2)(2.20,0.65)(2.225,1.6)(2.25,0.65)(2.275,1.3)(2.30,0.6)(2.325,1.5)(2.35,0.6)(2.375,1.2)(2.40,0.55)(2.425,1.4)(2.45,0.5)(2.475,1.1)(2.50,0.5)(2.525,1.2)(2.55,0.45)(2.575,0.9)(2.60,0.3)(2.64,0.35)(2.68,0.3)(2.70,0.35)(2.725,1.1)(2.75,0.35)(2.775,0.8)(2.80,0.3)(2.825,0.9)(2.85,0.3)(2.875,0.7)(2.90,0.25)(2.925,0.6)(2.95,0.2)(2.975,0.5)(3.00,0.15)(3.025,0.35)(3.05,0.1)(3.075,0.2)(3.10,0.05)(3.15,0.08)(3.19,0.35)(3.20,0.45)(3.225,0.7)(3.25,0.45)(3.275,0.8)(3.30,0.45)(3.325,0.75)(3.35,0.5)(3.375,0.95)(3.40,0.5)(3.425,1.2)(3.45,0.5)(3.475,0.9)(3.50,0.15)(3.55,0.2)(3.60,0.4)(3.62,0.5)(3.645,1.1)(3.67,0.5)(3.695,1.2)(3.72,0.5)(3.745,0.9)(3.77,0.5)(3.795,1.15)(3.82,0.5)(3.845,1.0)(3.87,0.5)(3.895,1.2)(3.92,0.5)(3.945,0.95)(3.97,0.5)(3.995,1.1)(4.02,0.5)(4.045,0.9)(4.08,0.4)(4.10,0.3)(4.125,0.85)(4.15,0.3)(4.175,0.6)(4.20,0.3)(4.225,0.9)(4.25,0.3)(4.275,0.7)(4.30,0.3)(4.325,0.85)(4.35,0.3)(4.375,0.6)(4.40,0.3)(4.425,0.8)(4.45,0.3)(4.475,0.65)(4.50,0.3)(4.525,0.8)(4.545,0.3)(4.565,0.6)(4.59,0.05)(4.64,0.08)(4.68,0.2)(4.70,0.3)(4.725,1.4)(4.75,0.3)(4.775,0.8)(4.80,0.3)(4.825,0.7)(4.85,0.3)(4.875,0.85)(4.90,0.3)(4.925,0.6)(4.95,0.3)(4.975,0.75)(5.00,0.3)(5.025,0.55)(5.05,0.3)(5.075,0.6)(5.10,0.25)(5.125,0.6)(5.15,0.25)(5.175,0.7)(5.20,0.25)(5.225,0.8)(5.25,0.25)(5.275,0.65)(5.30,0.25)(5.325,0.9)(5.35,0.25)(5.375,0.75)(5.40,0.25)(5.425,1.0)(5.45,0.25)(5.475,0.7)(5.50,0.05)(5.55,0.08)(5.60,0.3)(5.62,0.4)(5.645,0.9)(5.67,0.4)(5.695,1.1)(5.72,0.4)(5.745,0.8)(5.77,0.4)(5.795,1.2)(5.82,0.4)(5.845,0.9)(5.87,0.4)(5.895,1.5)(5.92,0.4)(5.945,1.0)(5.97,0.4)(5.995,1.3)(6.02,0.4)(6.045,1.1)(6.07,0.45)(6.10,0.45)(6.125,1.3)(6.15,0.45)(6.175,1.95)(6.20,0.45)(6.225,1.2)(6.25,0.45)(6.275,1.4)(6.30,0.45)(6.325,1.1)(6.35,0.45)(6.375,1.55)(6.40,0.45)(6.425,1.2)(6.45,0.45)(6.475,1.3)(6.50,0.45)(6.525,1.0)(6.55,0.45)(6.575,1.1)(6.60,0.4)(6.62,0.25)(6.66,0.3)(6.70,0.25)(6.72,0.4)(6.745,1.05)(6.77,0.4)(6.795,0.8)(6.82,0.4)(6.845,0.9)(6.87,0.4)(6.895,0.7)(6.92,0.4)(6.945,0.85)(6.97,0.4)(6.995,0.7)(7.02,0.4)(7.045,0.8)(7.08,0.4)(7.12,0.5)(7.145,1.0)(7.17,0.5)(7.195,0.85)(7.22,0.5)(7.245,1.2)(7.27,0.5)(7.295,0.9)(7.32,0.5)(7.345,1.1)(7.37,0.5)(7.395,0.95)(7.42,0.5)(7.445,1.2)(7.47,0.5)(7.495,1.0)(7.53,0.1)(7.58,0.15)(7.62,0.5)(7.65,0.8)(7.675,1.3)(7.70,0.8)(7.725,1.1)(7.75,0.8)(7.775,1.2)(7.80,0.8)(7.825,1.05)(7.85,0.8)(7.875,1.15)(7.90,0.8)(7.925,1.0)(7.95,0.8)(7.975,1.1)(8.00,0.8)(8.025,1.0)(8.05,0.8)(8.075,1.05)(8.10,0.7)(8.12,0.3)(8.15,0.4)(8.19,0.3)};
\end{axis}
% ---------- annotations
\node[font=\bfseries\fontsize{20}{22}\selectfont] at (212.25pt,-13.5pt) {a)};
\node[font=\bfseries\fontsize{20}{22}\selectfont] at (703.5pt,-13.5pt) {b)};
\tikzset{strap/.style={align=center, font=\bfseries\fontsize{11.5}{12.75}\selectfont, inner sep=0pt},
         strapb/.style={align=center, font=\bfseries\fontsize{10.2}{12.75}\selectfont, inner sep=0pt}}
\node[strap, text=sgreen] at (75pt,-36.4pt) {2-strap\\B-coated};
\node[strap, text=spurple] at (135pt,-36.4pt) {2-strap\\W-coated};
\node[strap, text=sgreen] at (189pt,-36.4pt) {2-strap\\B-coated};
\node[strap, text=spurple] at (242.25pt,-36.4pt) {2-strap\\W-coated};
\node[strap, text=sgreen] at (297.75pt,-36.4pt) {2-strap\\B-coated};
\node[strap, text=spurple] at (352.5pt,-36.4pt) {2-strap\\W-coated};
\node[strapb, text=sgreen] at (557.5pt,-36.4pt) {2-strap\\B-coated};
\node[strapb, text=spurple] at (606.25pt,-36.4pt) {3-strap\\W-coated};
\node[strapb, text=sgreen] at (655pt,-36.4pt) {2-strap\\B-coated};
\node[strapb, text=spurple] at (702.5pt,-36.4pt) {3-strap\\W-coated};
\node[strapb, text=sgreen] at (751.25pt,-36.4pt) {2-strap\\B-coated};
\node[strapb, text=spurple] at (797.5pt,-36.4pt) {3-strap\\W-coated};
\draw[-{Stealth[length=9pt,width=6pt]}, line width=0.9pt, black] (120pt,-98.25pt) -- (81pt,-98.25pt);
\draw[-{Stealth[length=9pt,width=6pt]}, line width=0.9pt, myred] (309pt,-98.25pt) -- (347.25pt,-98.25pt);
\draw[-{Stealth[length=9pt,width=6pt]}, line width=0.9pt, black] (601.5pt,-98.25pt) -- (566.25pt,-98.25pt);
\draw[-{Stealth[length=9pt,width=6pt]}, line width=0.9pt, myred] (759pt,-98.25pt) -- (793.5pt,-98.25pt);
\node[font=\fontsize{16}{18}\selectfont] at (317.25pt,-122.25pt) {\# 30629};
\node[font=\fontsize{16}{18}\selectfont] at (766.25pt,-122.25pt) {\# 33214};
\node[anchor=west, font=\bfseries\fontsize{11}{13}\selectfont, inner sep=0pt] at (60pt,-153.75pt) {@T\textsubscript{e}≈1.5 keV};
\node[anchor=west, font=\bfseries\fontsize{11}{13}\selectfont, inner sep=0pt, text=myred] at (60pt,-168.5pt) {@T\textsubscript{e}≈ 3 keV};
\node[anchor=west, font=\bfseries\fontsize{11}{13}\selectfont, inner sep=0pt] at (558pt,-153.75pt) {@T\textsubscript{e}≈1.5 keV};
\node[anchor=west, font=\bfseries\fontsize{11}{13}\selectfont, inner sep=0pt, text=myred] at (558pt,-170.25pt) {@T\textsubscript{e}≈ 3 keV};
\node[font=\bfseries\fontsize{12.5}{14}\selectfont] at (360.75pt,-432.75pt) {time [s]};
\node[font=\bfseries\fontsize{12.5}{14}\selectfont] at (810pt,-431.25pt) {time [s]};
\end{tikzpicture}
\end{document}
